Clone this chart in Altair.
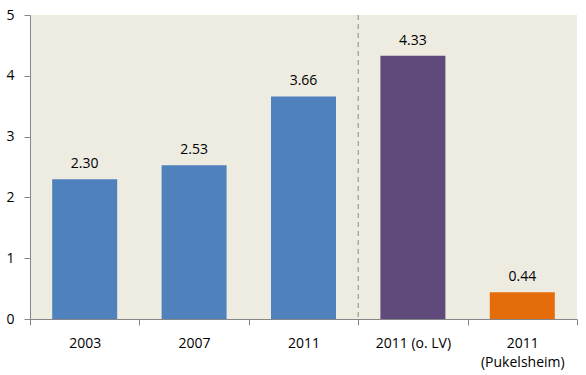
import altair as alt
import pandas as pd

categories = ["2003", "2007", "2011", "2011 (o. LV)", "2011 (Pukelsheim)"]
values = [2.30, 2.53, 3.66, 4.33, 0.44]
groups = ["actual", "actual", "actual", "without LV", "Pukelsheim"]
y_ticks = [0, 1, 2, 3, 4, 5]
divider = ["2011 (o. LV)"]

df = pd.DataFrame({"cat": categories, "val": values, "grp": groups,
                   "lbl": [f"{v:.2f}" for v in values]})
div_df = pd.DataFrame({"cat": divider})

FONT = "Open Sans"
x_scale = alt.Scale(domain=categories, paddingInner=0, paddingOuter=0)
y_scale = alt.Scale(domain=[0, 5], nice=False)

label_expr = "datum.label == '2011 (Pukelsheim)' ? ['2011', '(Pukelsheim)'] : datum.label"

bars = alt.Chart(df).mark_bar(width=alt.RelativeBandSize(0.594)).encode(
    x=alt.X("cat:N", scale=x_scale, sort=categories, title=None,
            axis=alt.Axis(tickBand="extent", labelAngle=0, labelAlign="center",
                          labelBaseline="top", labelExpr=label_expr,
                          labelFont=FONT, labelFontSize=14, labelColor="#000000",
                          labelLineHeight=19, labelPadding=11, tickSize=6,
                          tickColor="#868686", domainColor="#868686", grid=False)),
    y=alt.Y("val:Q", scale=y_scale, title=None,
            axis=alt.Axis(values=y_ticks, format="d", labelFont=FONT, labelFontSize=14,
                          labelColor="#000000", labelPadding=10, tickSize=6,
                          tickColor="#868686", domainColor="#868686", grid=False)),
    color=alt.Color("grp:N", legend=None,
                    scale=alt.Scale(domain=["actual", "without LV", "Pukelsheim"],
                                    range=["#4F81BD", "#604A7B", "#E46C0A"])),
)

texts = alt.Chart(df).mark_text(font=FONT, fontSize=14, color="#000000",
                                baseline="alphabetic", dy=-11).encode(
    x=alt.X("cat:N", scale=x_scale, sort=categories),
    y=alt.Y("val:Q", scale=y_scale),
    text="lbl:N",
)

rule = alt.Chart(div_df).mark_rule(color="#888888", strokeDash=[5, 4], strokeWidth=1).encode(
    x=alt.X("cat:N", scale=x_scale, sort=categories, bandPosition=0),
)

chart = alt.layer(rule, bars, texts).properties(
    width=547, height=304,
    autosize=alt.AutoSizeParams(type="none"),
    padding={"left": 30, "top": 15, "right": 9, "bottom": 56},
    background="#FFFFFF",
).configure_view(fill="#EEEBE0", stroke=None)

chart.save("out.html", embed_options={"renderer": "svg", "actions": False})
